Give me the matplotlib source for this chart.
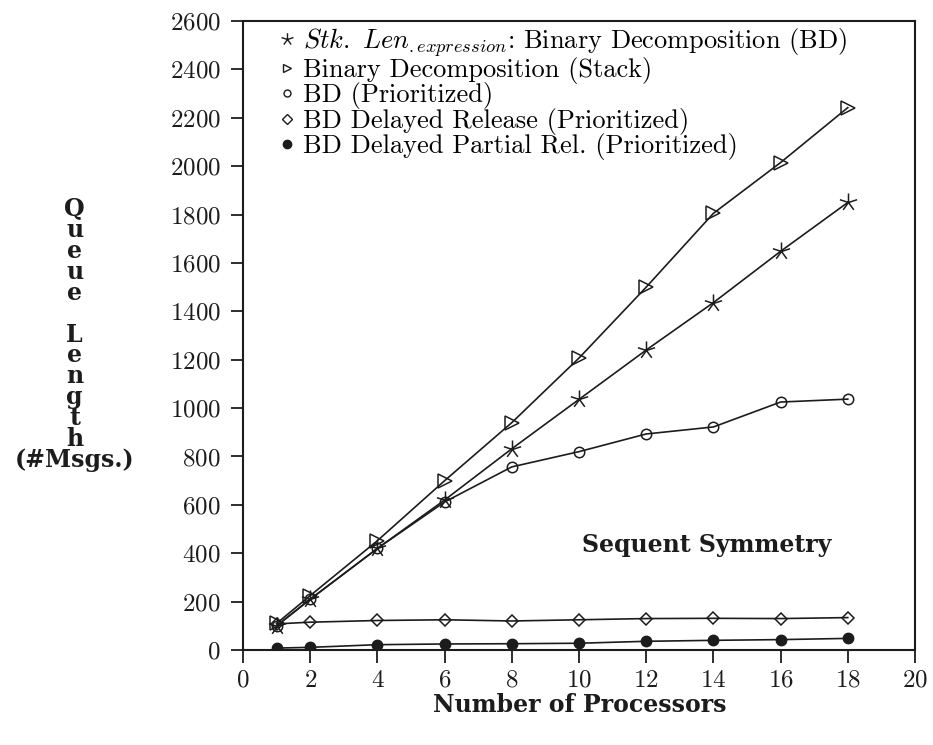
import numpy as np
import matplotlib
matplotlib.use("Agg")
import matplotlib.pyplot as plt
from matplotlib.path import Path
from matplotlib.lines import Line2D

plt.rcParams['font.family'] = 'cmr10'
plt.rcParams['mathtext.fontset'] = 'cm'
plt.rcParams['axes.formatter.use_mathtext'] = True

# queue length (#msgs) against number of processors
procs = [1, 2, 4, 6, 8, 10, 12, 14, 16, 18]
stk_len_expr = [100, 210, 420, 620, 832, 1036, 1240, 1436, 1648, 1850]
bd_stack = [110, 225, 452, 700, 940, 1207, 1500, 1805, 2015, 2242]
bd_prio = [100, 210, 420, 612, 757, 820, 893, 922, 1025, 1037]
bd_delayed = [108, 115, 122, 125, 120, 125, 130, 131, 130, 134]
bd_partial = [8, 11, 22, 25, 26, 28, 36, 40, 43, 48]

labels = [r'$Stk.\ Len_{.expression}$: Binary Decomposition (BD)',
          'Binary Decomposition (Stack)',
          'BD (Prioritized)',
          'BD Delayed Release (Prioritized)',
          'BD Delayed Partial Rel. (Prioritized)']

x_ticks = np.arange(0, 21, 2)
y_ticks = np.arange(0, 2601, 200)

# five-armed asterisk used for the expression series
ang = np.deg2rad(90 + 72 * np.arange(5))
verts, codes = [], []
for a in ang:
    verts += [(0, 0), (np.cos(a), np.sin(a))]
    codes += [Path.MOVETO, Path.LINETO]
star = Path(verts, codes)

fig = plt.figure(figsize=(9.33, 7.45), dpi=100)
ax = fig.add_axes([0.2605, 0.1275, 0.7202, 0.8443])

ink = '#1c1c1c'
bold = dict(family='DejaVu Serif', weight='bold', color=ink)
styles = [
    dict(marker=star, ms=13, mew=1.1, mfc='none'),
    dict(marker='>', ms=10, mew=1.1, mfc='none'),
    dict(marker='o', ms=7.5, mew=1.1, mfc='none'),
    dict(marker='D', ms=6.5, mew=1.1, mfc='none'),
    dict(marker='o', ms=7.5, mew=1.0, mfc=ink),
]
series = [stk_len_expr, bd_stack, bd_prio, bd_delayed, bd_partial]
for ys, st in zip(series, styles):
    ax.plot(procs, ys, color=ink, lw=1.2, mec=ink, **st)

ax.set_xlim(0, 20)
ax.set_ylim(0, 2600)
ax.set_xticks(x_ticks)
ax.set_yticks(y_ticks)
ax.tick_params(axis='both', direction='out', length=9, width=1.3,
               labelsize=18, colors=ink)
ax.tick_params(axis='x', pad=5)
ax.tick_params(axis='y', pad=7)
for sp in ax.spines.values():
    sp.set_linewidth(1.5)
    sp.set_color(ink)

# legend: markers only, no line segments
leg_styles = [
    dict(marker=star, ms=9, mew=1.0, mfc='none'),
    dict(marker='>', ms=6, mew=1.0, mfc='none'),
    dict(marker='o', ms=5, mew=1.0, mfc='none'),
    dict(marker='D', ms=5, mew=1.0, mfc='none'),
    dict(marker='o', ms=6, mew=1.0, mfc=ink),
]
handles = [Line2D([], [], ls='none', color=ink, mec=ink, **st) for st in leg_styles]
ax.legend(handles, labels, loc='upper left', bbox_to_anchor=(0.03, 1.018),
          frameon=False, fontsize=19, handlelength=0.6, handletextpad=0.3,
          labelspacing=-0.06, borderaxespad=0.2)

ax.text(13.8, 434, 'Sequent Symmetry', fontsize=17, ha='center',
        va='center', **bold)

ylab = 'Q\nu\ne\nu\ne\n\nL\ne\nn\ng\nt\nh\n(#Msgs.)'
fig.text(0.080, 0.551, ylab, fontsize=17, ha='center', va='center',
         linespacing=0.84, **bold)
fig.text(0.621, 0.054, 'Number of Processors', fontsize=17, ha='center',
         va='center', **bold)

fig.savefig('out.png', dpi=100)
